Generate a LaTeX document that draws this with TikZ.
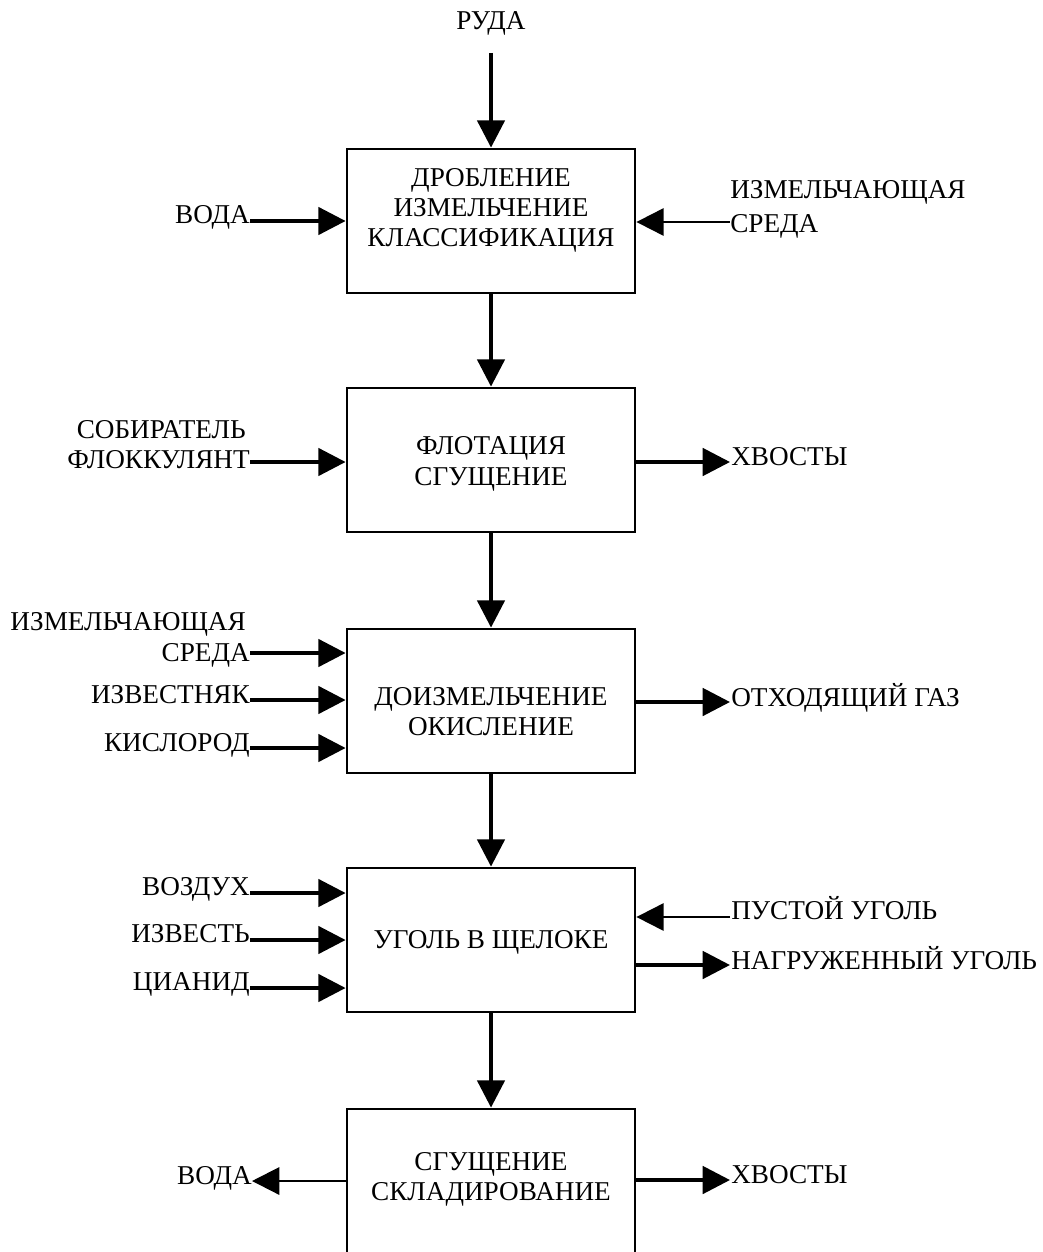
\documentclass[tikz,border=0pt]{standalone}
\usepackage{fontspec}
\setmainfont{Liberation Serif}
\usetikzlibrary{arrows.meta}
\begin{document}
\begin{tikzpicture}[x=0.75pt,y=-0.75pt,
  box/.style={draw,line width=2.1pt,minimum width=216pt,minimum height=108pt,inner sep=0pt},
  txt/.style={inner sep=0pt,font=\fontsize{20.4}{23}\selectfont},
  lab/.style={txt,anchor=base east},
  rlab/.style={txt,anchor=base west},
  ctxt/.style={txt,anchor=base},
  arr/.style={line width=2.9pt,-{Triangle[length=20.5pt,width=20.5pt]}},
  arrthin/.style={line width=1.6pt,-{Triangle[length=20.5pt,width=20.5pt]}}]
\useasboundingbox (0,0) rectangle (1042,1252);
\clip (0,0) rectangle (1042,1252);

% boxes
\node[box] (b1) at (491,221) {};
\node[box] (b2) at (491,460) {};
\node[box] (b3) at (491,701) {};
\node[box] (b4) at (491,940) {};
\node[box,minimum height=112.5pt] (b5) at (491,1184) {};

% box texts
\node[ctxt] (t1a) at (491,186) {ДРОБЛЕНИЕ};
\node[ctxt] (t1b) at (491,216) {ИЗМЕЛЬЧЕНИЕ};
\node[ctxt] (t1c) at (491,246) {КЛАССИФИКАЦИЯ};
\node[ctxt] (t2a) at (491,454) {ФЛОТАЦИЯ};
\node[ctxt] (t2b) at (491,485) {СГУЩЕНИЕ};
\node[ctxt] (t3a) at (491,705) {ДОИЗМЕЛЬЧЕНИЕ};
\node[ctxt] (t3b) at (491,735) {ОКИСЛЕНИЕ};
\node[ctxt] (t4a) at (491,948) {УГОЛЬ В ЩЕЛОКЕ};
\node[ctxt] (t5a) at (491,1170) {СГУЩЕНИЕ};
\node[ctxt] (t5b) at (491,1200) {СКЛАДИРОВАНИЕ};

% top input
\node[ctxt] (ruda) at (491,30) {РУДА};
\coordinate (r0) at (491,53);
\draw[arr] (r0) -- (b1.north);

% vertical connections
\draw[arr] (b1.south) -- (b2.north);
\draw[arr] (b2.south) -- (b3.north);
\draw[arr] (b3.south) -- (b4.north);
\draw[arr] (b4.south) -- (b5.north);

% box 1
\coordinate (c1l) at (250,221);
\node[lab] (l1) at (250,223) {ВОДА};
\draw[arr] (c1l) -- (c1l -| b1.west);
\coordinate (c1r) at (730,222);
\node[rlab] (r1a) at (730,198) {ИЗМЕЛЬЧАЮЩАЯ};
\node[rlab] (r1b) at (730,232) {СРЕДА};
\draw[arrthin] (c1r) -- (c1r -| b1.east);

% box 2
\coordinate (c2l) at (250,462);
\node[lab] (l2a) at (246,438) {СОБИРАТЕЛЬ};
\node[lab] (l2b) at (250,468) {ФЛОККУЛЯНТ};
\draw[arr] (c2l) -- (c2l -| b2.west);
\coordinate (c2r) at (730,462);
\node[rlab] (r2) at (731,465) {ХВОСТЫ};
\draw[arr] (c2r -| b2.east) -- (c2r);

% box 3
\coordinate (c3l1) at (250,653);
\coordinate (c3l2) at (250,700);
\coordinate (c3l3) at (250,748);
\node[lab] (l3a) at (246,630) {ИЗМЕЛЬЧАЮЩАЯ};
\node[lab] (l3b) at (250,661) {СРЕДА};
\node[lab] (l3c) at (250,703) {ИЗВЕСТНЯК};
\node[lab] (l3d) at (250,751) {КИСЛОРОД};
\draw[arr] (c3l1) -- (c3l1 -| b3.west);
\draw[arr] (c3l2) -- (c3l2 -| b3.west);
\draw[arr] (c3l3) -- (c3l3 -| b3.west);
\coordinate (c3r) at (730,702);
\node[rlab] (r3) at (731,706) {ОТХОДЯЩИЙ ГАЗ};
\draw[arr] (c3r -| b3.east) -- (c3r);

% box 4
\coordinate (c4l1) at (250,893);
\coordinate (c4l2) at (250,940);
\coordinate (c4l3) at (250,988);
\node[lab] (l4a) at (250,895) {ВОЗДУХ};
\node[lab] (l4b) at (250,942) {ИЗВЕСТЬ};
\node[lab] (l4c) at (250,990) {ЦИАНИД};
\draw[arr] (c4l1) -- (c4l1 -| b4.west);
\draw[arr] (c4l2) -- (c4l2 -| b4.west);
\draw[arr] (c4l3) -- (c4l3 -| b4.west);
\coordinate (c4r1) at (730,917);
\coordinate (c4r2) at (730,965);
\node[rlab] (r4a) at (731,919) {ПУСТОЙ УГОЛЬ};
\node[rlab] (r4b) at (731,969) {НАГРУЖЕННЫЙ УГОЛЬ};
\draw[arrthin] (c4r1) -- (c4r1 -| b4.east);
\draw[arr] (c4r2 -| b4.east) -- (c4r2);

% box 5
\coordinate (c5l) at (252,1181);
\node[lab] (l5) at (252,1184) {ВОДА};
\draw[arrthin] (c5l -| b5.west) -- (c5l);
\coordinate (c5r) at (730,1180);
\node[rlab] (r5) at (731,1183) {ХВОСТЫ};
\draw[arr] (c5r -| b5.east) -- (c5r);
\end{tikzpicture}
\end{document}
